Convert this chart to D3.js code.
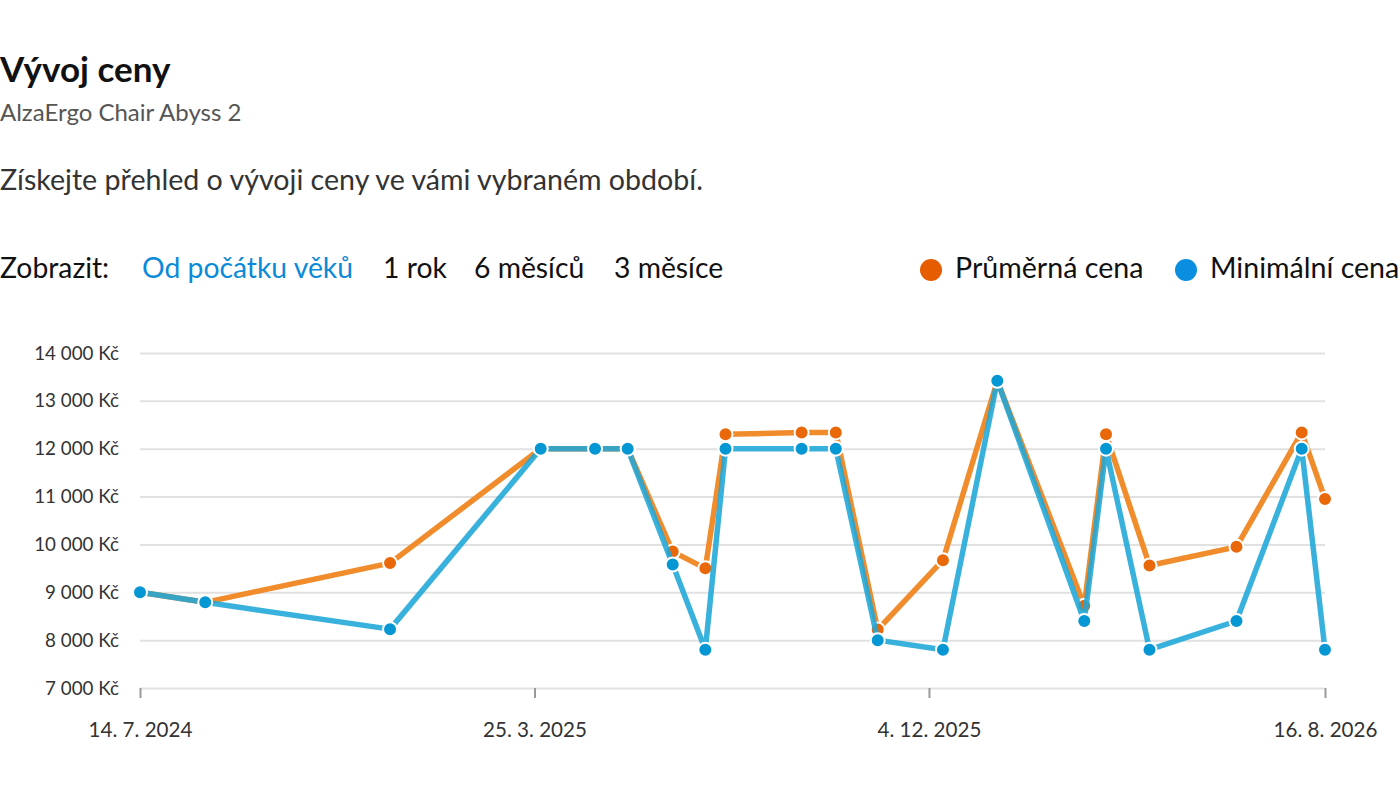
<!DOCTYPE html>
<html><head><meta charset="utf-8">
<script src="https://cdn.jsdelivr.net/npm/d3@7/dist/d3.min.js"></script>
<style>
html,body{margin:0;padding:0;background:#fff;}
svg{display:block;font-family:Lato,"Open Sans",sans-serif;}
</style></head><body>
<svg id="c" width="1400" height="804"></svg>
<script>
const dates = ["2024-07-14","2024-08-25","2024-12-22","2025-03-29","2025-05-03","2025-05-24","2025-06-22","2025-07-13","2025-07-26","2025-09-13","2025-10-05","2025-11-01","2025-12-13","2026-01-17","2026-03-14","2026-03-28","2026-04-25","2026-06-20","2026-08-01","2026-08-16"];
const avgPrice = [9000,8790,9610,12000,12000,12000,9850,9500,12300,12340,12340,8220,9670,13420,8720,12300,9560,9950,12340,10950];
const minPrice = [9000,8790,8230,12000,12000,12000,9580,7800,12000,12000,12000,8000,7800,13420,8400,12000,7800,8400,12000,7800];
const yTicks = [7000,8000,9000,10000,11000,12000,13000,14000];
const xTicks = ["2024-07-14","2025-03-25","2025-12-04","2026-08-16"];
const periods = ["Od počátku věků","1 rok","6 měsíců","3 měsíce"];
const seriesNames = ["Průměrná cena","Minimální cena"];

const parse = d3.timeParse("%Y-%m-%d");
const svg = d3.select("#c");

svg.append("text").attr("x",0).attr("y",82).attr("font-size",35).attr("font-weight",700).attr("fill","#111").text("Vývoj ceny");
svg.append("text").attr("x",0).attr("y",121).attr("font-size",24).attr("fill","#555").text("AlzaErgo Chair Abyss 2");
svg.append("text").attr("x",0).attr("y",190).attr("font-size",28.6).attr("fill","#333").text("Získejte přehled o vývoji ceny ve vámi vybraném období.");

svg.append("text").attr("x",0).attr("y",278).attr("font-size",28.3).attr("fill","#111").text("Zobrazit:");
const pX = [142,383,474,614];
periods.forEach((p,i)=>{
  svg.append("text").attr("x",pX[i]).attr("y",278).attr("font-size",28.3)
    .attr("fill", i===0 ? "#0a8ad8" : "#111").text(p);
});
const legColors = ["#e65c00","#0a8ee0"];
const legX = [931,1186];
seriesNames.forEach((s,i)=>{
  svg.append("circle").attr("cx",legX[i]).attr("cy",270).attr("r",11).attr("fill",legColors[i]);
  svg.append("text").attr("x",legX[i]+24).attr("y",278).attr("font-size",28.6).attr("fill","#111").text(s);
});

const x = d3.scaleTime().domain([parse(xTicks[0]), parse(xTicks[3])]).range([140,1325]);
const y = d3.scaleLinear().domain([7000,14000]).range([688,353]);

// grid
const gy = svg.append("g").attr("transform","translate(140,0)")
  .call(d3.axisLeft(y).tickValues(yTicks).tickSize(-1185).tickPadding(21)
    .tickFormat(v => d3.format(",")(v).replace(/,/g," ") + " Kč"));
gy.select(".domain").remove();
gy.selectAll(".tick line").attr("stroke","#e1e1e1").attr("stroke-width",2);
gy.selectAll(".tick text").attr("font-size",18.8).attr("fill","#333").attr("font-family","Lato,sans-serif");

const gx = svg.append("g").attr("transform","translate(0,688)")
  .call(d3.axisBottom(x).tickValues(xTicks.map(parse)).tickSize(10).tickPadding(24)
    .tickFormat(d3.timeFormat("%-d. %-m. %Y")));
gx.select(".domain").remove();
gx.selectAll(".tick line").attr("stroke","#999").attr("stroke-width",2);
gx.selectAll(".tick text").attr("font-size",20.6).attr("fill","#333").attr("font-family","Lato,sans-serif");

const line = d3.line().x(d=>x(d.d)).y(d=>y(d.v));
const avgData = dates.map((d,i)=>({d:parse(d),v:avgPrice[i]}));
const minData = dates.map((d,i)=>({d:parse(d),v:minPrice[i]}));

function series(data, lineColor, markColor, opacity){
  svg.append("path").datum(data).attr("d",line).attr("fill","none")
    .attr("stroke",lineColor).attr("stroke-width",5.5).attr("stroke-linejoin","round").attr("stroke-opacity",opacity);
  svg.append("g").selectAll("circle").data(data).join("circle")
    .attr("cx",d=>x(d.d)).attr("cy",d=>y(d.v)).attr("r",7)
    .attr("fill",markColor).attr("stroke","#fff").attr("stroke-width",2);
}
series(avgData,"#f08c2c","#e8680a",1);
series(minData,"#1ea6d8","#0596d4",0.88);
</script>
</body></html>
